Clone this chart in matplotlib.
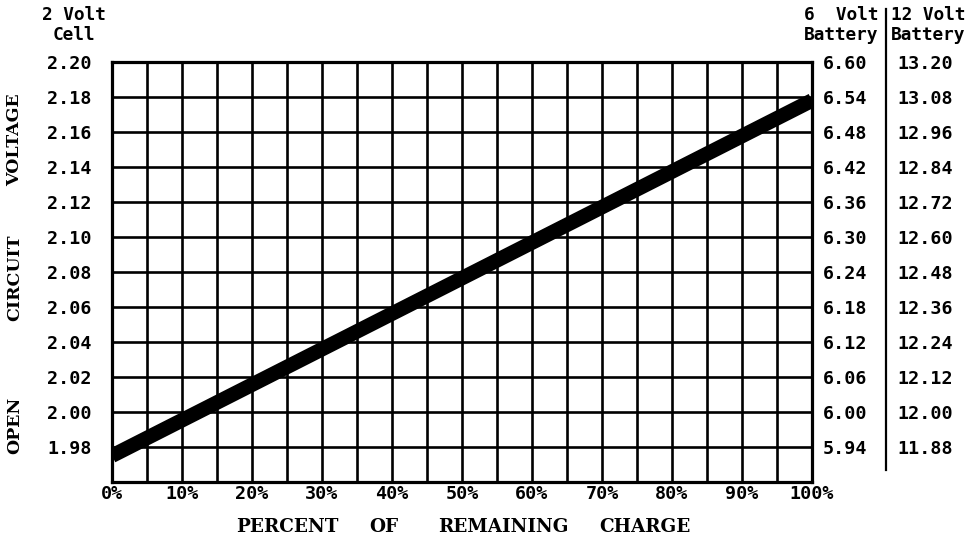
import matplotlib
matplotlib.use("Agg")
import matplotlib.pyplot as plt
from matplotlib.lines import Line2D
import numpy as np

# Data
charge_pct = [0, 100]
cell_voltage = [1.975, 2.178]
cell_ticks = [1.98, 2.00, 2.02, 2.04, 2.06, 2.08, 2.10, 2.12, 2.14, 2.16, 2.18, 2.20]
x_ticks = [0, 10, 20, 30, 40, 50, 60, 70, 80, 90, 100]
x_tick_labels = ["0%", "10%", "20%", "30%", "40%", "50%", "60%", "70%", "80%", "90%", "100%"]
six_volt_labels = ["5.94", "6.00", "6.06", "6.12", "6.18", "6.24", "6.30", "6.36", "6.42", "6.48", "6.54", "6.60"]
twelve_volt_labels = ["11.88", "12.00", "12.12", "12.24", "12.36", "12.48", "12.60", "12.72", "12.84", "12.96", "13.08", "13.20"]
x_label_words = ["PERCENT", "OF", "REMAINING", "CHARGE"]
y_label_words = ["OPEN", "CIRCUIT", "VOLTAGE"]

W, H = 973, 547
fig = plt.figure(figsize=(W / 100, H / 100), dpi=100)
fig.patch.set_facecolor("white")
ax = fig.add_axes([112 / W, 1 - 482 / H, 700 / W, 420 / H])

mono = "DejaVu Sans Mono"
serif = "DejaVu Serif"
fs = 13.2

ax.set_xlim(0, 100)
ax.set_ylim(1.96, 2.20)

# grid
for x in np.arange(0, 101, 5):
    ax.axvline(x, color="black", lw=1.9, zorder=1)
for y in np.arange(1.96, 2.201, 0.02):
    ax.axhline(y, color="black", lw=1.9, zorder=1)
for s in ax.spines.values():
    s.set_linewidth(2.3)

ax.plot(charge_pct, cell_voltage, color="black", lw=10.5, solid_capstyle="butt", zorder=3)

ax.set_xticks(x_ticks)
ax.set_xticklabels(x_tick_labels, fontfamily=mono, fontweight="bold", fontsize=fs)
ax.set_yticks(cell_ticks)
ax.set_yticklabels([f"{v:.2f}" for v in cell_ticks], fontfamily=mono, fontweight="bold", fontsize=fs)
ax.tick_params(axis="x", length=0, pad=2)
ax.tick_params(axis="y", length=0, pad=14.5)

sec6 = ax.secondary_yaxis(1.0)
sec6.set_yticks(cell_ticks)
sec6.set_yticklabels(six_volt_labels, fontfamily=mono, fontweight="bold", fontsize=fs)
sec6.tick_params(length=0, pad=8)
sec6.spines["right"].set_visible(False)

sec12 = ax.secondary_yaxis((886 - 112) / 700)
sec12.set_yticks(cell_ticks)
sec12.set_yticklabels(twelve_volt_labels, fontfamily=mono, fontweight="bold", fontsize=fs)
sec12.tick_params(length=0, pad=8)
sec12.spines["right"].set_visible(False)

# separator line
fig.add_artist(Line2D([886 / W, 886 / W], [1 - 9 / H, 1 - 470 / H], color="black", lw=1.6))

# headers
hfs = 12.8
fig.text(74 / W, 1 - 25 / H, "2 Volt\nCell", ha="center", va="center", fontfamily=mono,
         fontweight="bold", fontsize=hfs, linespacing=1.15)
fig.text(878 / W, 1 - 25 / H, "6  Volt\nBattery", ha="right", va="center", fontfamily=mono,
         fontweight="bold", fontsize=hfs, linespacing=1.15)
fig.text(891 / W, 1 - 25 / H, "12 Volt\nBattery", ha="left", va="center", fontfamily=mono,
         fontweight="bold", fontsize=hfs, linespacing=1.15)

# axis titles, one word at a time with wide typewriter spacing
for word, xc in zip(x_label_words, [287, 384, 503, 645]):
    fig.text(xc / W, 1 - 527 / H, word, ha="center", va="center",
             fontfamily=serif, fontweight="bold", fontsize=13.2)
for word, yc in zip(y_label_words, [425, 278, 140]):
    fig.text(15 / W, 1 - yc / H, word, ha="center", va="center", rotation=90,
             fontfamily=serif, fontweight="bold", fontsize=12.5)

fig.savefig("out.png", dpi=100, facecolor="white")
